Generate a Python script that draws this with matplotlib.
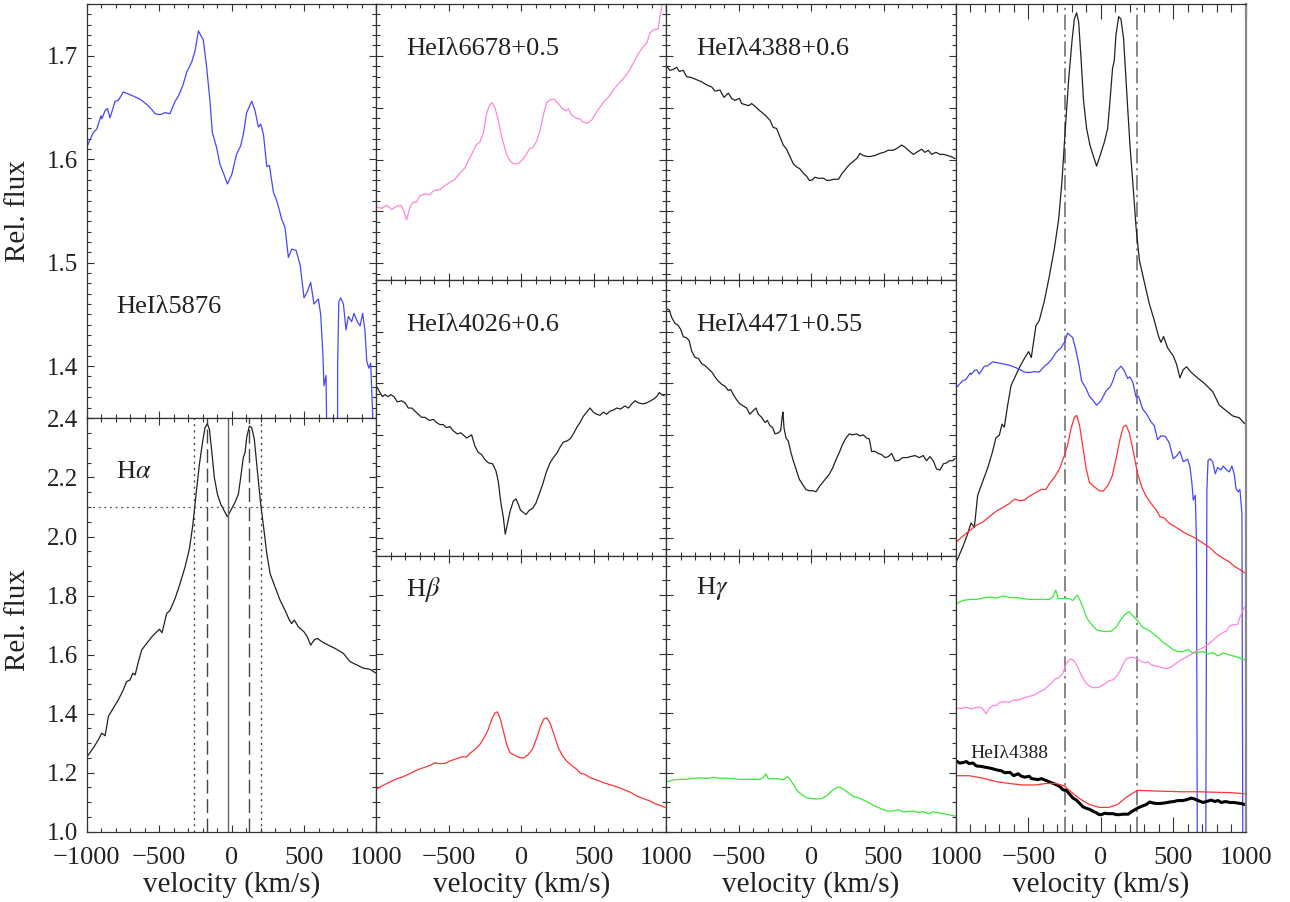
import numpy as np
import matplotlib
matplotlib.use("Agg")
import matplotlib.pyplot as plt
from matplotlib.ticker import MultipleLocator

plt.rcParams["font.family"] = ["Liberation Serif", "DejaVu Serif"]
plt.rcParams["mathtext.fontset"] = "stix"

# (velocity km/s, relative flux)
he5876 = np.array([
    (-995, 1.613), (-954, 1.626), (-931, 1.629), (-901, 1.642), (-895, 1.639), (-873, 1.647),
    (-857, 1.649), (-839, 1.640), (-804, 1.656), (-781, 1.657), (-747, 1.665), (-712, 1.663),
    (-678, 1.661), (-632, 1.658), (-586, 1.653), (-551, 1.648), (-528, 1.644), (-494, 1.643),
    (-459, 1.645), (-425, 1.644), (-390, 1.656), (-367, 1.661), (-337, 1.671), (-310, 1.684),
    (-275, 1.694), (-252, 1.705), (-229, 1.724), (-206, 1.718), (-195, 1.715), (-172, 1.689),
    (-149, 1.656), (-133, 1.626), (-103, 1.611), (-80, 1.595), (-52, 1.585), (-29, 1.576),
    (1, 1.585), (35, 1.605), (63, 1.613), (81, 1.624), (104, 1.645), (139, 1.656), (162, 1.647),
    (185, 1.631), (201, 1.634), (220, 1.624), (243, 1.593), (261, 1.594), (289, 1.568),
    (316, 1.558), (346, 1.542), (369, 1.534), (392, 1.505), (415, 1.513), (445, 1.512),
    (473, 1.498), (500, 1.466), (523, 1.472), (546, 1.481), (569, 1.460), (599, 1.465),
    (615, 1.450), (629, 1.415), (638, 1.381), (652, 1.391), (660, 1.300), (668, 0.450),
    (722, 0.450), (732, 1.400), (740, 1.462), (753, 1.466), (772, 1.460), (790, 1.435),
    (806, 1.448), (829, 1.443), (845, 1.451), (868, 1.443), (887, 1.439), (905, 1.451),
    (921, 1.434), (933, 1.405), (947, 1.398), (960, 1.403), (974, 1.353), (982, 0.450),
    (1000, 0.450),
])

halpha = np.array([
    (-995, 1.256), (-954, 1.284), (-919, 1.312), (-896, 1.334), (-873, 1.325), (-850, 1.391),
    (-816, 1.419), (-781, 1.447), (-747, 1.481), (-724, 1.509), (-701, 1.514), (-682, 1.537),
    (-666, 1.531), (-643, 1.576), (-620, 1.616), (-586, 1.638), (-551, 1.660), (-517, 1.677),
    (-498, 1.686), (-480, 1.674), (-448, 1.739), (-425, 1.750), (-390, 1.790), (-356, 1.840),
    (-321, 1.897), (-291, 1.958), (-268, 2.037), (-245, 2.144), (-222, 2.245), (-199, 2.324),
    (-183, 2.369), (-167, 2.382), (-153, 2.363), (-137, 2.290), (-119, 2.200), (-98, 2.144),
    (-75, 2.110), (-52, 2.088), (-29, 2.067), (-6, 2.088), (24, 2.116), (47, 2.144),
    (63, 2.200), (81, 2.268), (93, 2.284), (104, 2.335), (123, 2.374), (139, 2.369),
    (157, 2.329), (178, 2.223), (201, 2.110), (224, 2.020), (243, 1.942), (266, 1.874),
    (300, 1.829), (335, 1.784), (369, 1.750), (399, 1.717), (415, 1.705), (433, 1.717),
    (461, 1.694), (500, 1.677), (523, 1.660), (546, 1.632), (569, 1.649), (592, 1.655),
    (622, 1.644), (668, 1.632), (714, 1.621), (772, 1.604), (818, 1.576), (864, 1.565),
    (910, 1.554), (956, 1.550), (990, 1.539), (1000, 1.537),
])

he6678 = np.array([  # HeI 6678 + 0.5
    (-994, 1.554), (-964, 1.553), (-930, 1.556), (-895, 1.552), (-861, 1.555), (-833, 1.556),
    (-815, 1.552), (-792, 1.542), (-769, 1.554), (-746, 1.559), (-723, 1.559), (-700, 1.565),
    (-665, 1.567), (-631, 1.566), (-608, 1.570), (-562, 1.571), (-527, 1.575), (-493, 1.578),
    (-458, 1.581), (-424, 1.587), (-389, 1.592), (-366, 1.599), (-343, 1.605), (-313, 1.614),
    (-286, 1.617), (-263, 1.625), (-240, 1.644), (-221, 1.652), (-203, 1.655), (-182, 1.650),
    (-159, 1.638), (-136, 1.622), (-101, 1.605), (-78, 1.599), (-55, 1.596), (-21, 1.596),
    (2, 1.599), (25, 1.603), (55, 1.610), (83, 1.612), (106, 1.618), (129, 1.628),
    (152, 1.643), (175, 1.655), (202, 1.658), (227, 1.658), (255, 1.654), (285, 1.649),
    (308, 1.647), (324, 1.649), (347, 1.643), (377, 1.640), (405, 1.639), (428, 1.636),
    (455, 1.635), (485, 1.638), (520, 1.646), (566, 1.655), (600, 1.660), (635, 1.667),
    (669, 1.673), (704, 1.678), (738, 1.684), (773, 1.693), (807, 1.702), (842, 1.709),
    (865, 1.712), (888, 1.722), (911, 1.725), (945, 1.726), (957, 1.738), (975, 1.751),
    (990, 1.760), (1000, 1.765),
])

he4388 = np.array([  # HeI 4388 + 0.6
    (-997, 1.690), (-974, 1.686), (-951, 1.687), (-928, 1.689), (-910, 1.685), (-882, 1.686),
    (-859, 1.680), (-824, 1.679), (-790, 1.677), (-755, 1.675), (-721, 1.672), (-686, 1.670),
    (-663, 1.666), (-628, 1.667), (-601, 1.660), (-571, 1.664), (-548, 1.659), (-525, 1.657),
    (-495, 1.659), (-479, 1.654), (-456, 1.653), (-433, 1.652), (-410, 1.654), (-376, 1.650),
    (-353, 1.647), (-318, 1.643), (-284, 1.638), (-261, 1.631), (-238, 1.630), (-215, 1.622),
    (-192, 1.614), (-169, 1.610), (-146, 1.603), (-123, 1.596), (-100, 1.593), (-77, 1.591),
    (-54, 1.587), (-31, 1.584), (-12, 1.580), (4, 1.580), (27, 1.583), (50, 1.582),
    (85, 1.582), (108, 1.580), (131, 1.580), (154, 1.581), (189, 1.581), (211, 1.586),
    (234, 1.590), (257, 1.594), (280, 1.597), (315, 1.601), (337, 1.606), (360, 1.604),
    (383, 1.603), (411, 1.603), (441, 1.604), (476, 1.606), (503, 1.607), (533, 1.609),
    (568, 1.609), (595, 1.611), (625, 1.614), (648, 1.612), (671, 1.609), (706, 1.605),
    (740, 1.608), (763, 1.610), (786, 1.607), (809, 1.609), (832, 1.605), (862, 1.607),
    (890, 1.605), (917, 1.605), (940, 1.604), (963, 1.603), (993, 1.601),
])

he4026 = np.array([  # HeI 4026 + 0.6
    (-994, 1.396), (-976, 1.391), (-958, 1.387), (-941, 1.389), (-918, 1.387), (-902, 1.389),
    (-879, 1.387), (-856, 1.382), (-826, 1.383), (-803, 1.381), (-780, 1.376), (-757, 1.376),
    (-734, 1.373), (-711, 1.370), (-688, 1.367), (-665, 1.367), (-635, 1.364), (-607, 1.365),
    (-585, 1.362), (-562, 1.360), (-539, 1.360), (-516, 1.357), (-493, 1.358), (-470, 1.354),
    (-442, 1.351), (-419, 1.352), (-401, 1.350), (-378, 1.347), (-355, 1.349), (-343, 1.350),
    (-320, 1.339), (-297, 1.333), (-274, 1.331), (-251, 1.326), (-228, 1.323), (-198, 1.322),
    (-175, 1.315), (-159, 1.305), (-143, 1.286), (-124, 1.270), (-111, 1.254), (-97, 1.263),
    (-78, 1.276), (-55, 1.286), (-37, 1.288), (-21, 1.283), (-5, 1.277), (14, 1.275),
    (32, 1.273), (55, 1.277), (78, 1.279), (101, 1.284), (124, 1.293), (147, 1.302),
    (175, 1.315), (198, 1.323), (221, 1.328), (244, 1.332), (267, 1.338), (290, 1.343),
    (313, 1.344), (336, 1.346), (359, 1.351), (382, 1.357), (405, 1.362), (428, 1.368),
    (451, 1.372), (474, 1.376), (497, 1.372), (520, 1.370), (543, 1.369), (566, 1.372),
    (589, 1.370), (612, 1.373), (635, 1.374), (658, 1.376), (685, 1.375), (715, 1.378),
    (739, 1.376), (762, 1.380), (785, 1.383), (808, 1.381), (838, 1.380), (865, 1.381),
    (893, 1.383), (916, 1.385), (934, 1.387), (952, 1.391), (969, 1.389), (985, 1.388),
])

he4471 = np.array([  # HeI 4471 + 0.55
    (-997, 1.472), (-979, 1.471), (-963, 1.464), (-940, 1.458), (-917, 1.456), (-900, 1.452),
    (-882, 1.445), (-859, 1.444), (-841, 1.441), (-824, 1.431), (-801, 1.425), (-778, 1.424),
    (-755, 1.419), (-732, 1.417), (-709, 1.414), (-686, 1.411), (-663, 1.406), (-640, 1.402),
    (-617, 1.399), (-594, 1.397), (-571, 1.393), (-555, 1.394), (-537, 1.389), (-514, 1.384),
    (-491, 1.380), (-468, 1.378), (-445, 1.376), (-422, 1.370), (-403, 1.373), (-380, 1.376),
    (-364, 1.370), (-341, 1.367), (-318, 1.362), (-302, 1.364), (-284, 1.359), (-265, 1.357),
    (-249, 1.351), (-226, 1.352), (-210, 1.354), (-200, 1.367), (-194, 1.372), (-187, 1.357),
    (-173, 1.347), (-157, 1.344), (-141, 1.334), (-123, 1.325), (-104, 1.317), (-81, 1.307),
    (-58, 1.302), (-35, 1.297), (-12, 1.296), (11, 1.296), (34, 1.295), (57, 1.300),
    (80, 1.304), (103, 1.308), (126, 1.312), (149, 1.318), (172, 1.326), (195, 1.333),
    (218, 1.341), (241, 1.347), (264, 1.351), (287, 1.350), (315, 1.351), (337, 1.349),
    (360, 1.350), (383, 1.347), (402, 1.346), (418, 1.334), (441, 1.334), (464, 1.332),
    (487, 1.331), (510, 1.328), (533, 1.329), (556, 1.332), (579, 1.325), (602, 1.325),
    (632, 1.328), (660, 1.328), (687, 1.329), (717, 1.330), (747, 1.328), (774, 1.330),
    (797, 1.325), (820, 1.329), (843, 1.325), (866, 1.317), (890, 1.316), (913, 1.322),
    (936, 1.323), (954, 1.325), (977, 1.325), (993, 1.327),
])

hbeta = np.array([
    (-994, 1.146), (-953, 1.157), (-907, 1.168), (-861, 1.179), (-815, 1.186), (-769, 1.197),
    (-723, 1.208), (-677, 1.216), (-631, 1.224), (-596, 1.233), (-562, 1.230), (-527, 1.231),
    (-493, 1.239), (-447, 1.247), (-412, 1.253), (-378, 1.253), (-355, 1.265), (-320, 1.278),
    (-286, 1.295), (-251, 1.323), (-228, 1.346), (-205, 1.379), (-182, 1.402), (-166, 1.405),
    (-147, 1.385), (-124, 1.340), (-101, 1.295), (-78, 1.267), (-44, 1.258), (-9, 1.250),
    (18, 1.250), (48, 1.261), (78, 1.280), (106, 1.317), (133, 1.357), (156, 1.382),
    (175, 1.385), (198, 1.368), (225, 1.329), (255, 1.284), (285, 1.256), (313, 1.239),
    (347, 1.224), (382, 1.211), (409, 1.197), (439, 1.194), (474, 1.183), (520, 1.175),
    (566, 1.166), (612, 1.159), (658, 1.152), (704, 1.143), (750, 1.134), (796, 1.121),
    (842, 1.112), (888, 1.104), (922, 1.095), (957, 1.089), (991, 1.082),
])

hgamma = np.array([
    (-993, 1.169), (-951, 1.175), (-905, 1.177), (-859, 1.177), (-813, 1.180), (-767, 1.182),
    (-721, 1.180), (-675, 1.184), (-629, 1.181), (-583, 1.181), (-537, 1.179), (-491, 1.177),
    (-445, 1.177), (-399, 1.177), (-353, 1.177), (-330, 1.183), (-311, 1.196), (-295, 1.179),
    (-261, 1.179), (-226, 1.179), (-192, 1.175), (-173, 1.183), (-162, 1.186), (-146, 1.177),
    (-123, 1.160), (-95, 1.138), (-65, 1.126), (-31, 1.115), (4, 1.112), (38, 1.111),
    (73, 1.112), (108, 1.121), (135, 1.134), (165, 1.146), (195, 1.152), (223, 1.143),
    (257, 1.132), (292, 1.119), (326, 1.115), (361, 1.107), (395, 1.099), (430, 1.089),
    (464, 1.082), (499, 1.074), (533, 1.070), (568, 1.070), (602, 1.074), (637, 1.067),
    (671, 1.068), (706, 1.070), (740, 1.065), (775, 1.068), (809, 1.061), (844, 1.067),
    (890, 1.063), (936, 1.059), (993, 1.053),
])

# model profile shown against HeI 4388 in the summary panel
model4388 = np.array([
    (-1000, 0.815), (-908, 0.815), (-816, 0.810), (-724, 0.803), (-632, 0.799), (-540, 0.796),
    (-448, 0.796), (-379, 0.799), (-310, 0.799), (-252, 0.794), (-195, 0.779), (-137, 0.766),
    (-80, 0.756), (-11, 0.750), (58, 0.750), (116, 0.756), (173, 0.770), (220, 0.779),
    (254, 0.785), (335, 0.784), (450, 0.783), (565, 0.782), (680, 0.782), (795, 0.781),
    (910, 0.780), (990, 0.778),
])

# shifts used in the summary panel
OFF_HBETA = 0.15
OFF_HE6678 = -0.60
OFF_HE4388 = -0.845

# H alpha markers
HA_LEVEL = 2.1
HA_CROSS = (-257, 203)
HA_PEAKS = (-172, 123)
HA_CENTRE = -27
SUMMARY_MARKS = (-250, 250)

BLUE = "#4646ff"
PINK = "#ff86dc"
RED = "#ff3434"
GREEN = "#36ec36"
INK = "#222222"

W, H = 1290, 902
fig = plt.figure(figsize=(W / 100, H / 100), dpi=100)

xcol = [86.7, 376.45, 666.2, 955.95, 1245.7]
ytop, ybot = 4.0, 831.7
third = (ybot - ytop) / 3
half = (ybot - ytop) / 2


def add_ax(c, y0, y1):
    return fig.add_axes([xcol[c] / W, 1 - y1 / H, (xcol[c + 1] - xcol[c]) / W, (y1 - y0) / H])


def style(ax, ylim, ymaj, ymin, xlab=None, ylab=None, tl=(5.0, 2.8)):
    ax.set_xlim(-1000, 1000)
    ax.set_ylim(*ylim)
    ax.xaxis.set_minor_locator(MultipleLocator(100))
    ax.yaxis.set_minor_locator(MultipleLocator(ymin))
    if xlab is None:
        ax.set_xticks([-1000, -500, 0, 500, 1000], labels=[""] * 5)
    else:
        ax.set_xticks([-1000, -500, 0, 500, 1000], labels=xlab)
    if ylab is None:
        ax.yaxis.set_major_locator(MultipleLocator(ymaj))
        ax.tick_params(axis="y", labelleft=False)
    else:
        ax.set_yticks(ylab, labels=["%.1f" % t for t in ylab])
    ax.tick_params(which="both", direction="in", top=True, right=True, width=0.8,
                   colors="#333333", labelcolor="#222222", labelsize=18)
    ax.tick_params(axis="x", labelsize=19, pad=11)
    ax.tick_params(which="major", length=tl[0])
    ax.tick_params(which="minor", length=tl[1])
    ax.tick_params(axis="y", pad=6)
    for s in ax.spines.values():
        s.set_linewidth(0.9)
        s.set_color("#333333")


lab_full = ["\u22121000", "\u2212500", "0", "500", "1000"]
lab_part = ["", "\u2212500", "0", "500", "1000"]
lw = 0.9

# column 1
ax = add_ax(0, ytop, ytop + half)
ax.plot(he5876[:, 0], he5876[:, 1], color=BLUE, lw=lw)
style(ax, (1.35, 1.75), 0.1, 0.01, ylab=[1.4, 1.5, 1.6, 1.7])

ax = add_ax(0, ytop + half, ybot)
ax.plot(halpha[:, 0], halpha[:, 1], color=INK, lw=lw)
ax.axhline(HA_LEVEL, color="#555555", lw=0.9, ls=(0, (1.5, 3)))
for v in HA_CROSS:
    ax.axvline(v, color="#444444", lw=1.0, ls=(0, (1.5, 3)))
for v in HA_PEAKS:
    ax.axvline(v, color="#444444", lw=1.0, ls=(0, (10, 4)))
ax.axvline(HA_CENTRE, color="#666666", lw=1.0)
style(ax, (1.0, 2.402), 0.2, 0.05, xlab=lab_full,
      ylab=[1.0, 1.2, 1.4, 1.6, 1.8, 2.0, 2.2, 2.4])

# columns 2 and 3
panels = [
    (1, 0, he6678, PINK, (1.484, 1.75), 0.05, 0.01),
    (1, 1, he4026, INK, (1.233, 1.50), 0.05, 0.01),
    (1, 2, hbeta, RED, (1.0, 1.933), 0.2, 0.05),
    (2, 0, he4388, INK, (1.484, 1.75), 0.05, 0.01),
    (2, 1, he4471, INK, (1.233, 1.50), 0.05, 0.01),
    (2, 2, hgamma, GREEN, (1.0, 1.933), 0.2, 0.05),
]
for c, r, data, col, ylim, ymaj, ymin in panels:
    ax = add_ax(c, ytop + r * third, ytop + (r + 1) * third)
    ax.plot(data[:, 0], data[:, 1], color=col, lw=lw)
    style(ax, ylim, ymaj, ymin, xlab=lab_part if r == 2 else None)

# column 4: all profiles together
ax = add_ax(3, ytop, ybot)
for v in SUMMARY_MARKS:
    ax.axvline(v, color="#666666", lw=1.1, ls=(0, (10, 3, 1.5, 3)))
ax.plot(halpha[:, 0], halpha[:, 1], color=INK, lw=lw)
ax.plot(he5876[:, 0], he5876[:, 1], color=BLUE, lw=lw)
ax.plot(hbeta[:, 0], hbeta[:, 1] + OFF_HBETA, color=RED, lw=lw)
ax.plot(hgamma[:, 0], hgamma[:, 1], color=GREEN, lw=lw)
ax.plot(he6678[:, 0], he6678[:, 1] + OFF_HE6678, color=PINK, lw=lw)
ax.plot(he4388[:, 0], he4388[:, 1] + OFF_HE4388, color="black", lw=2.2)
ax.plot(model4388[:, 0], model4388[:, 1], color=RED, lw=lw)
style(ax, (0.70, 2.40), 0.2, 0.05, xlab=lab_part, tl=(11.0, 5.5))
ax.tick_params(axis="y", which="both", left=False, right=False)
ax.spines["right"].set_color("#888888")
ax.spines["right"].set_linewidth(1.6)

# panel names
names = [
    (116, 307, "HeI\u03bb5876"), (116, 472, r"H$\alpha$"),
    (406, 49, "HeI\u03bb6678+0.5"), (406, 325, "HeI\u03bb4026+0.6"), (406, 589, r"H$\beta$"),
    (696, 49, "HeI\u03bb4388+0.6"), (696, 325, "HeI\u03bb4471+0.55"), (696, 589, r"H$\gamma$"),
]
for x, y, s in names:
    fig.text(x / W, 1 - y / H, s, fontsize=19, color="#222222", ha="left", va="center")
fig.text(970 / W, 1 - 753 / H, "HeI\u03bb4388", fontsize=14, color="#222222",
         ha="left", va="center")

for y in (211, 620):
    fig.text(18 / W, 1 - y / H, "Rel. flux", fontsize=21, rotation=90,
             ha="center", va="center", color="#222222")
for c in range(4):
    xc = (xcol[c] + xcol[c + 1]) / 2
    fig.text(xc / W, 1 - 885 / H, "velocity (km/s)", fontsize=21,
             ha="center", va="center", color="#222222")

fig.savefig("out.png", dpi=100)
